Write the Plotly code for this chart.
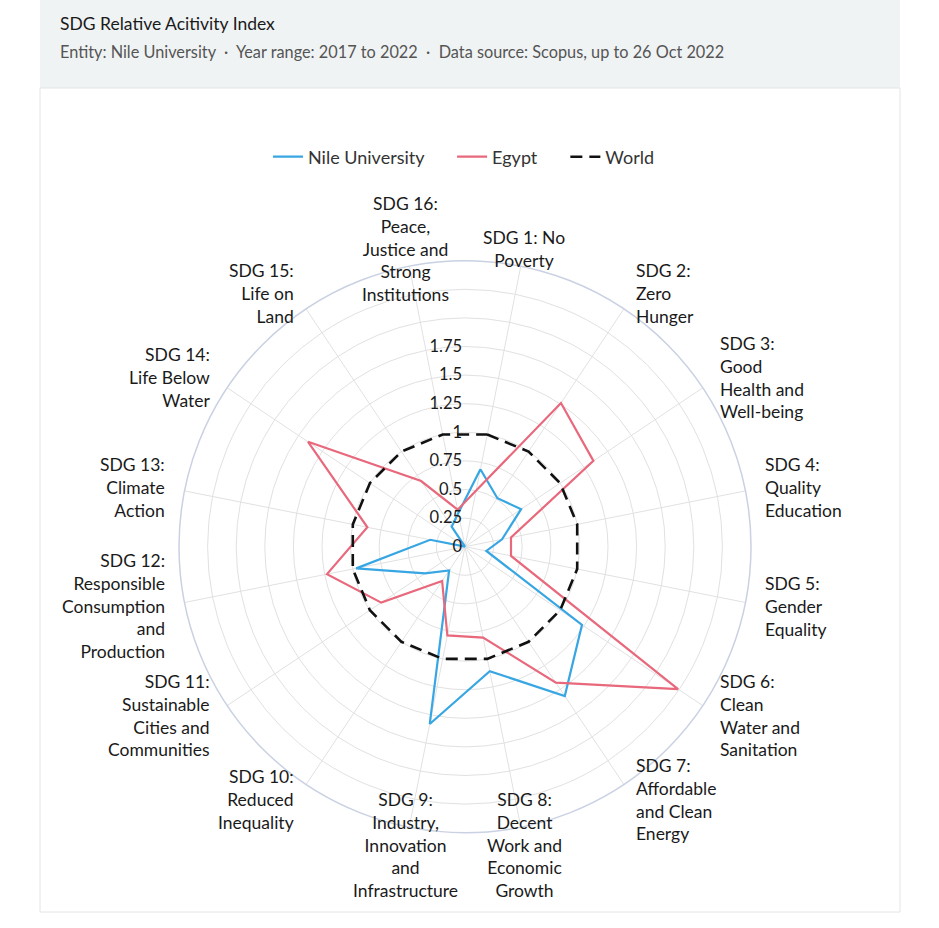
import math
import plotly.graph_objects as go

categories = [
    "SDG 1: No<br>Poverty",
    "SDG 2:<br>Zero<br>Hunger",
    "SDG 3:<br>Good<br>Health and<br>Well-being",
    "SDG 4:<br>Quality<br>Education",
    "SDG 5:<br>Gender<br>Equality",
    "SDG 6:<br>Clean<br>Water and<br>Sanitation",
    "SDG 7:<br>Affordable<br>and Clean<br>Energy",
    "SDG 8:<br>Decent<br>Work and<br>Economic<br>Growth",
    "SDG 9:<br>Industry,<br>Innovation<br>and<br>Infrastructure",
    "SDG 10:<br>Reduced<br>Inequality",
    "SDG 11:<br>Sustainable<br>Cities and<br>Communities",
    "SDG 12:<br>Responsible<br>Consumption<br>and<br>Production",
    "SDG 13:<br>Climate<br>Action",
    "SDG 14:<br>Life Below<br>Water",
    "SDG 15:<br>Life on<br>Land",
    "SDG 16:<br>Peace,<br>Justice and<br>Strong<br>Institutions",
]

nile_university = [0.69, 0.51, 0.59, 0.33, 0.19, 1.23, 1.57, 1.11,
                   1.58, 0.25, 0.42, 0.97, 0.31, 0.0, 0.21, 0.30]
egypt = [0.50, 1.51, 1.35, 0.41, 0.41, 2.24, 1.43, 0.81,
         0.79, 0.36, 0.88, 1.23, 0.87, 1.65, 0.69, 0.33]
world = [1.0] * 16

radial_ticks = [0, 0.25, 0.5, 0.75, 1, 1.25, 1.5, 1.75, 2, 2.25, 2.5]
radial_tick_text = ["0", "0.25", "0.5", "0.75", "1", "1.25", "1.5", "1.75", "", "", ""]

series_names = ["Nile University", "Egypt", "World"]

title_text = "SDG Relative Acitivity Index"
subtitle_text = ("Entity: Nile University  \u00b7  Year range: 2017 to 2022  \u00b7  "
                 "Data source: Scopus, up to 26 Oct 2022")

FONT = "Lato"
W, H = 939, 928
OFF = 0   # body margin removed by post_script below


def px(x):
    return (x - OFF) / W


def py(y):
    return 1 - (y - OFF) / H


def close(v):
    return list(v) + [v[0]]


theta = close(categories)
ROTATION = 78.75  # first category 11.25 deg clockwise from north

fig = go.Figure()
fig.add_trace(go.Scatterpolar(r=close(nile_university), theta=theta, mode="lines",
                              name=series_names[0] + "\u00a0" * 5,
                              line=dict(color="#38a6e2", width=2.2)))
fig.add_trace(go.Scatterpolar(r=close(egypt), theta=theta, mode="lines",
                              name=series_names[1] + "\u00a0" * 5,
                              line=dict(color="#e8687c", width=2.2)))
fig.add_trace(go.Scatterpolar(r=close(world), theta=theta, mode="lines",
                              name=series_names[2],
                              line=dict(color="#111111", width=2.6, dash="12px,7px")))

# polar geometry (reference pixels)
cx, cy, R = 465, 546.7, 286
LABEL_DIST = R + 18

# category labels placed around the circle
label_annotations = []
n = len(categories)
for i, cat in enumerate(categories):
    ang = math.radians(90 - ROTATION + 360 * i / n)  # clockwise from north
    s, c = math.sin(ang), math.cos(ang)
    x = cx + LABEL_DIST * s
    y = cy - LABEL_DIST * c
    if abs(s) < 0.3:
        xa, al = "center", "center"
    elif s > 0:
        xa, al = "left", "left"
    else:
        xa, al = "right", "right"
    label_annotations.append(dict(
        text=cat, xref="paper", yref="paper", x=px(x), y=py(y),
        xanchor=xa, yanchor="middle", align=al, showarrow=False,
        font=dict(family=FONT, size=17.5, color="#1a1a1a")))

fig.update_layout(
    width=W, height=H,
    margin=dict(l=0, r=0, t=0, b=0),
    paper_bgcolor="white",
    plot_bgcolor="white",
    font=dict(family=FONT, size=16, color="#222222"),
    showlegend=True,
    legend=dict(orientation="h", x=px(464), xanchor="center",
                y=py(157), yanchor="middle",
                font=dict(family=FONT, size=18, color="#333333"),
                itemwidth=30),
    polar=dict(
        domain=dict(x=[px(cx - R), px(cx + R)],
                    y=[py(cy + R), py(cy - R)]),
        bgcolor="white",
        angularaxis=dict(
            direction="clockwise", rotation=ROTATION,
            showline=True, linecolor="#c9d1e2", linewidth=1.5,
            gridcolor="#e1e1e1", gridwidth=1,
            ticks="", showticklabels=False,
        ),
        radialaxis=dict(
            range=[0, 2.5], angle=90, side="counterclockwise", tickangle=90,
            tickvals=radial_ticks, ticktext=radial_tick_text,
            showline=False, ticks="",
            gridcolor="#e1e1e1", gridwidth=1,
            tickfont=dict(family=FONT, size=16.5, color="#1a1a1a"),
        ),
    ),
    shapes=[
        dict(type="rect", xref="paper", yref="paper",
             x0=px(40), x1=px(900), y0=py(88), y1=1.0,
             fillcolor="#f0f3f4", line=dict(width=0), layer="below"),
        dict(type="rect", xref="paper", yref="paper",
             x0=px(40), x1=px(900), y0=py(912), y1=py(88),
             fillcolor="rgba(0,0,0,0)", line=dict(color="#e4e4e4", width=1),
             layer="below"),
    ],
    annotations=[
        dict(text=title_text, xref="paper", yref="paper",
             x=px(58), y=py(24), xanchor="left", yanchor="middle",
             showarrow=False, font=dict(family=FONT, size=17.5, color="#1a1a1a")),
        dict(text=subtitle_text, xref="paper", yref="paper",
             x=px(58), y=py(52), xanchor="left", yanchor="middle",
             showarrow=False, font=dict(family=FONT, size=16.3, color="#555555")),
    ] + label_annotations,
)

fig.write_html("out.html",
               config={"displayModeBar": False},
               post_script="document.body.style.margin='0px';"
                           "document.documentElement.style.overflow='hidden';")
